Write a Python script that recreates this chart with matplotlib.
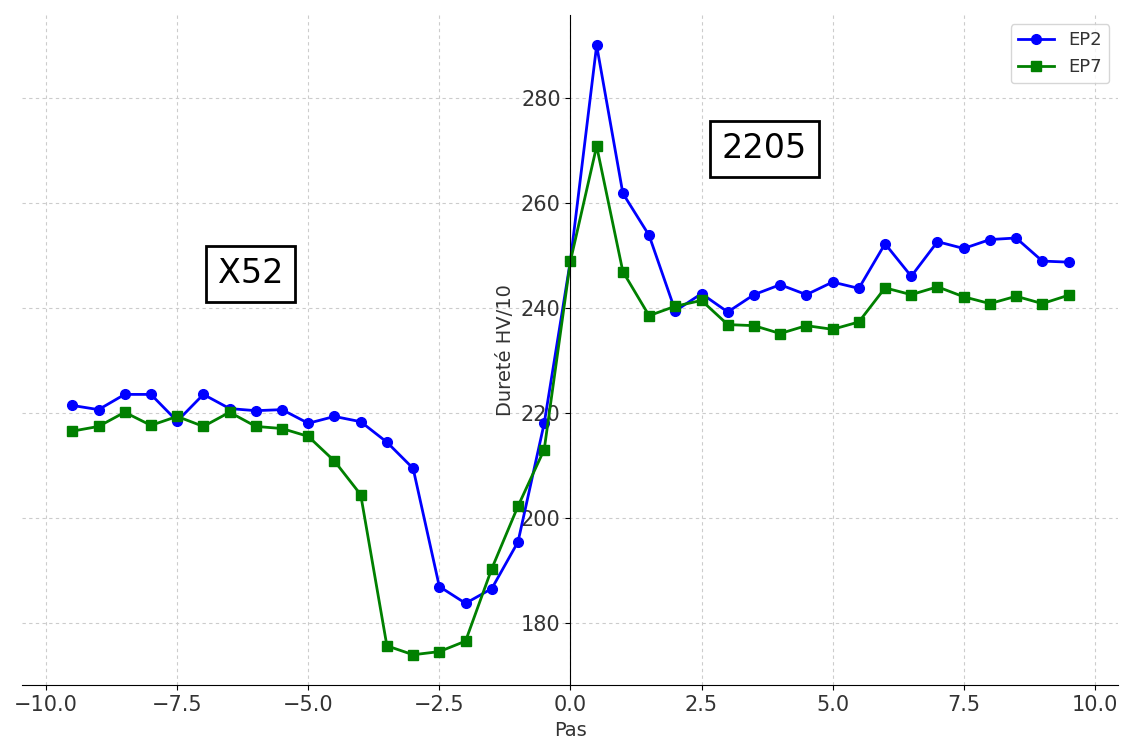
import matplotlib.pyplot as plt
import numpy as np

pas = np.arange(-9.5, 9.6, 0.5)

ep2 = [221.4, 220.6, 223.5, 223.5, 218.4, 223.5, 220.8, 220.4, 220.6, 218.0,
       219.3, 218.3, 214.4, 209.4, 186.9, 183.7, 186.5, 195.4, 218.0,
       249.0,
       290.0, 261.8, 253.8, 239.4, 242.7, 239.2, 242.5, 244.4, 242.5, 244.9,
       243.7, 252.2, 246.0, 252.6, 251.3, 253.0, 253.3, 248.9, 248.7]
ep7 = [216.5, 217.4, 220.1, 217.6, 219.3, 217.4, 220.1, 217.4, 217.0, 215.5,
       210.8, 204.4, 175.6, 173.9, 174.5, 176.5, 190.3, 202.2, 213.0,
       248.9,
       270.8, 246.9, 238.5, 240.3, 241.4, 236.8, 236.6, 235.1, 236.6, 235.9,
       237.3, 243.8, 242.5, 244.0, 242.1, 240.8, 242.2, 240.8, 242.4]

fig, ax = plt.subplots(figsize=(11.24, 7.44), dpi=100)
fig.subplots_adjust(left=0.02, right=0.995, top=0.98, bottom=0.079)

ax.plot(pas, ep2, color="blue", marker="o", markersize=7, linewidth=2, label="EP2")
ax.plot(pas, ep7, color="green", marker="s", markersize=7, linewidth=2, label="EP7")

ax.spines["left"].set_position(("data", 0))
ax.spines["top"].set_visible(False)
ax.spines["right"].set_visible(False)
ax.set_yticks([180, 200, 220, 240, 260, 280])
ax.tick_params(labelsize=15, labelcolor="#333333")
ax.grid(True, linestyle=(0, (3, 3)), color="#cccccc", linewidth=0.8)

ax.set_xlabel("Pas", fontsize=14, color="#333333")
ax.set_ylabel("Dureté HV/10", fontsize=14, color="#333333")

box = dict(boxstyle="square,pad=0.35", facecolor="white", edgecolor="black", linewidth=2)
ax.text(-6.1, 246.5, "X52", fontsize=24, ha="center", va="center", bbox=box)
ax.text(3.7, 270.3, "2205", fontsize=24, ha="center", va="center", bbox=box)

leg = ax.legend(loc="upper right", fontsize=13)
for t in leg.get_texts():
    t.set_color("#333333")

plt.savefig("out.png")
